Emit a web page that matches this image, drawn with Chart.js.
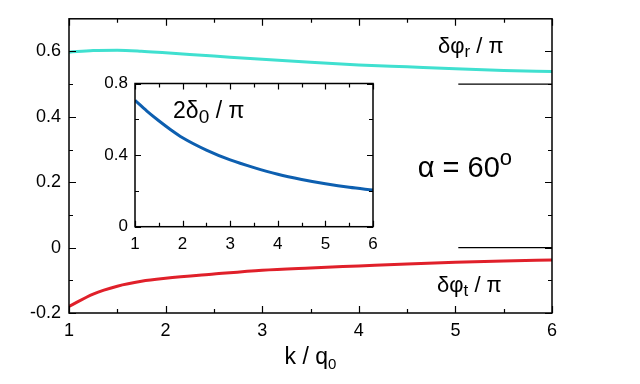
<!DOCTYPE html>
<html lang="en">

<head>
  <meta charset="UTF-8" />
  <title>Phase shifts vs k / q0</title>
  <script src="https://cdn.jsdelivr.net/npm/chart.js"></script>
  <style>
    body { margin: 0; background: #fff; }
    .wrap { position: relative; width: 640px; height: 384px; }
    .wrap canvas { position: absolute; left: 0; top: 0; }
  </style>
</head>

<body>
  <div class="wrap">
    <canvas id="mainChart" width="640" height="384"></canvas>
    <canvas id="insetChart" width="640" height="384"></canvas>
  </div>

  <script>
    // k / q0 sample points (shared by all curves)
    const kVals = [1, 1.25, 1.5, 1.75, 2, 2.5, 3, 3.5, 4, 4.5, 5, 5.5, 6];
    // delta phi_r / pi (cyan)
    const phiR = [0.598, 0.603, 0.604, 0.601, 0.596, 0.586, 0.576, 0.567, 0.559, 0.553, 0.547, 0.542, 0.539];
    // delta phi_t / pi (red)
    const phiT = [-0.180, -0.142, -0.118, -0.103, -0.094, -0.081, -0.069, -0.062, -0.056, -0.050, -0.045, -0.041, -0.038];
    // 2 delta_0 / pi (inset, blue)
    const delta0 = [0.706, 0.646, 0.592, 0.542, 0.497, 0.428, 0.373, 0.330, 0.293, 0.264, 0.240, 0.220, 0.205];
    // short limit marks on the right
    const refK = [5.03, 6];
    const refR = [0.5, 0.5];
    const refT = [0, 0];

    const xTicks = [1, 2, 3, 4, 5, 6];
    const xMinor = [1.5, 2.5, 3.5, 4.5, 5.5];
    const yTicks = [-0.2, 0, 0.2, 0.4, 0.6];
    const yMinor = [-0.1, 0.1, 0.3, 0.5];
    const insetYTicks = [0, 0.4, 0.8];
    const insetYMinor = [0.2, 0.6];

    const FONT = '"Liberation Sans", Arial, Helvetica, sans-serif';

    function pts(xs, ys) {
      return xs.map((x, i) => ({ x: x, y: ys[i] }));
    }

    function fmt(v) {
      return v === 0 ? '0' : String(v);
    }

    // box with inward ticks on all four sides
    const framePlugin = {
      id: 'frame',
      afterDraw(chart, args, opts) {
        const ctx = chart.ctx;
        const a = chart.chartArea;
        const sx = chart.scales.x, sy = chart.scales.y;
        ctx.save();
        ctx.strokeStyle = '#000';
        ctx.lineWidth = 1.5;
        ctx.strokeRect(a.left, a.top, a.right - a.left, a.bottom - a.top);
        ctx.lineWidth = 1.2;
        ctx.beginPath();
        const tx = (vals, len) => vals.forEach(v => {
          const p = Math.round(sx.getPixelForValue(v)) + 0.5;
          ctx.moveTo(p, a.bottom); ctx.lineTo(p, a.bottom - len);
          ctx.moveTo(p, a.top); ctx.lineTo(p, a.top + len);
        });
        const ty = (vals, len) => vals.forEach(v => {
          const p = Math.round(sy.getPixelForValue(v)) + 0.5;
          ctx.moveTo(a.left, p); ctx.lineTo(a.left + len, p);
          ctx.moveTo(a.right, p); ctx.lineTo(a.right - len, p);
        });
        tx(opts.xMajor, opts.major);
        tx(opts.xMinor, opts.minor);
        ty(opts.yMajor, opts.major);
        ty(opts.yMinor, opts.minor);
        ctx.stroke();
        ctx.restore();
      }
    };

    function richWidth(ctx, parts) {
      let w = 0;
      parts.forEach(p => {
        ctx.font = p.size + 'px ' + FONT;
        w += ctx.measureText(p.t).width;
      });
      return w;
    }

    function drawRich(ctx, x, y, parts) {
      parts.forEach(p => {
        ctx.font = p.size + 'px ' + FONT;
        ctx.fillText(p.t, x, y + (p.dy || 0));
        x += ctx.measureText(p.t).width;
      });
    }

    // labels placed in data coordinates
    const labelPlugin = {
      id: 'labels',
      afterDraw(chart, args, opts) {
        const ctx = chart.ctx;
        const sx = chart.scales.x, sy = chart.scales.y;
        ctx.save();
        ctx.fillStyle = '#000';
        ctx.textBaseline = 'alphabetic';
        ctx.textAlign = 'left';
        (opts.items || []).forEach(it => {
          drawRich(ctx, sx.getPixelForValue(it.x), sy.getPixelForValue(it.y), it.parts);
        });
        if (opts.xTitle) {
          const a = chart.chartArea;
          const w = richWidth(ctx, opts.xTitle);
          drawRich(ctx, (a.left + a.right) / 2 - w / 2, a.bottom + 51, opts.xTitle);
        }
        ctx.restore();
      }
    };

    function axes(yMin, yMax, yT, tickSize, padX, padY, yWidth, xHeight) {
      return {
        x: {
          type: 'linear', min: 1, max: 6,
          afterBuildTicks: s => { s.ticks = xTicks.map(v => ({ value: v })); },
          afterFit: s => { s.height = xHeight; },
          grid: { display: false, drawTicks: false },
          border: { display: false },
          ticks: { color: '#000', font: { family: FONT, size: tickSize }, padding: padX, maxRotation: 0, callback: fmt }
        },
        y: {
          type: 'linear', min: yMin, max: yMax,
          afterBuildTicks: s => { s.ticks = yT.map(v => ({ value: v })); },
          afterFit: s => { s.width = yWidth; },
          grid: { display: false, drawTicks: false },
          border: { display: false },
          ticks: { color: '#000', font: { family: FONT, size: tickSize }, padding: padY, callback: fmt }
        }
      };
    }

    const lineStyle = { pointRadius: 0, fill: false, cubicInterpolationMode: 'monotone' };

    new Chart(document.getElementById('mainChart'), {
      type: 'line',
      data: {
        datasets: [
          Object.assign({ data: pts(kVals, phiR), borderColor: '#40e0d0', borderWidth: 3 }, lineStyle),
          Object.assign({ data: pts(kVals, phiT), borderColor: '#e0202a', borderWidth: 3 }, lineStyle),
          Object.assign({ data: pts(refK, refR), borderColor: '#000', borderWidth: 1.3 }, lineStyle),
          Object.assign({ data: pts(refK, refT), borderColor: '#000', borderWidth: 1.3 }, lineStyle)
        ]
      },
      options: {
        responsive: false,
        animation: false,
        layout: { padding: { top: 17, right: 88, left: 0, bottom: 0 } },
        scales: axes(-0.2, 0.7, yTicks, 18, 7, 8, 69, 71),
        plugins: {
          legend: { display: false },
          tooltip: { enabled: false },
          frame: { xMajor: xTicks, xMinor: xMinor, yMajor: yTicks, yMinor: yMinor, major: 7, minor: 4 },
          labels: {
            items: [
              { x: 4.82, y: 0.595, parts: [{ t: 'δφ', size: 22 }, { t: 'r', size: 17, dy: 4 }, { t: ' / π', size: 22 }] },
              { x: 4.61, y: 0.215, parts: [{ t: 'α = 60', size: 29 }, { t: 'o', size: 22, dy: -12 }] },
              { x: 4.81, y: -0.135, parts: [{ t: 'δφ', size: 22 }, { t: 't', size: 17, dy: 4 }, { t: ' / π', size: 22 }] }
            ],
            xTitle: [{ t: 'k / q', size: 23 }, { t: '0', size: 15, dy: 5 }]
          }
        }
      },
      plugins: [framePlugin, labelPlugin]
    });

    new Chart(document.getElementById('insetChart'), {
      type: 'line',
      data: {
        datasets: [
          Object.assign({ data: pts(kVals, delta0), borderColor: '#0d5fb0', borderWidth: 3 }, lineStyle)
        ]
      },
      options: {
        responsive: false,
        animation: false,
        layout: { padding: { top: 83.5, right: 267, left: 0, bottom: 0 } },
        scales: axes(0, 0.8, insetYTicks, 17, 7, 7, 135, 157.3),
        plugins: {
          legend: { display: false },
          tooltip: { enabled: false },
          frame: { xMajor: xTicks, xMinor: xMinor, yMajor: insetYTicks, yMinor: insetYMinor, major: 6, minor: 4 },
          labels: {
            items: [
              { x: 1.8, y: 0.605, parts: [{ t: '2δ', size: 23 }, { t: '0', size: 19, dy: 5 }, { t: ' / π', size: 23 }] }
            ]
          }
        }
      },
      plugins: [framePlugin, labelPlugin]
    });
  </script>
</body>

</html>
